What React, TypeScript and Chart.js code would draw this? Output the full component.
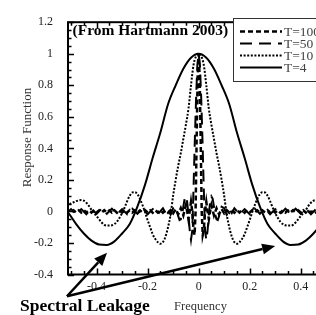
import React, { useEffect, useRef } from 'react';
import { Chart, registerables } from 'chart.js';

Chart.register(...registerables);

// ---- data (curves are symmetric about f = 0, so the positive half is listed) ----
const seriesLabels = ['T=100', 'T=50', 'T=10', 'T=4'];

const t100Freq = [0, 0.004, 0.008, 0.012, 0.016, 0.02, 0.025, 0.03, 0.035, 0.04, 0.045, 0.05,
  0.06, 0.07, 0.08, 0.09, 0.10, 0.11, 0.12, 0.13, 0.14, 0.15, 0.16, 0.17, 0.18, 0.19, 0.20,
  0.21, 0.22, 0.23, 0.24, 0.25, 0.26, 0.27, 0.28, 0.29, 0.30, 0.31, 0.32, 0.33, 0.34, 0.35,
  0.36, 0.37, 0.38, 0.39, 0.40, 0.41, 0.42, 0.43, 0.44, 0.45, 0.46, 0.47, 0.48, 0.49, 0.50,
  0.51, 0.52, 0.53, 0.54];
const t100Resp = [1.0, 0.85, 0.45, 0.0, -0.15, -0.12, 0.0, 0.06, 0.0, -0.05, 0.0, 0.04,
  -0.025, 0.02, -0.018, 0.015, -0.012, 0.008, -0.008, 0.007, -0.008, 0.008, -0.007, 0.008, -0.008, 0.007, -0.007,
  0.008, -0.007, 0.007, -0.008, 0.007, -0.007, 0.008, -0.007, 0.007, -0.007, 0.007, -0.008, 0.007, -0.007, 0.007,
  -0.007, 0.008, -0.007, 0.007, -0.007, 0.007, -0.007, 0.007, -0.007, 0.007, -0.007, 0.007, -0.007, 0.007, -0.007,
  0.007, -0.007, 0.007, -0.007];

const t50Freq = [0, 0.005, 0.01, 0.015, 0.02, 0.025, 0.03, 0.035, 0.04, 0.045, 0.05, 0.055, 0.06,
  0.065, 0.07, 0.075, 0.08, 0.085, 0.09, 0.10, 0.11, 0.12, 0.13, 0.14, 0.16, 0.18, 0.20, 0.22,
  0.24, 0.26, 0.28, 0.30, 0.32, 0.34, 0.36, 0.38, 0.40, 0.42, 0.44, 0.46, 0.48, 0.50, 0.52, 0.54];
const t50Resp = [1.0, 0.93, 0.72, 0.45, 0.15, -0.12, -0.18, -0.12, -0.02, 0.06, 0.095, 0.08, 0.03,
  -0.02, -0.05, -0.055, -0.03, 0.0, 0.03, 0.02, -0.02, 0.015, -0.01, 0.02, -0.018, 0.015, -0.018, 0.018,
  -0.015, 0.018, -0.018, 0.015, -0.018, 0.018, -0.015, 0.018, -0.015, 0.018, -0.018, 0.015, -0.018, 0.015, -0.015, 0.01];

const t10Freq = [0, 0.01, 0.02, 0.03, 0.04, 0.05, 0.06, 0.07, 0.08, 0.09, 0.10, 0.11, 0.12, 0.13,
  0.14, 0.15, 0.16, 0.17, 0.18, 0.19, 0.20, 0.21, 0.22, 0.23, 0.24, 0.25, 0.26, 0.27, 0.28, 0.29,
  0.30, 0.31, 0.32, 0.33, 0.34, 0.35, 0.36, 0.37, 0.38, 0.39, 0.40, 0.41, 0.42, 0.43, 0.44, 0.45,
  0.46, 0.47, 0.48, 0.49, 0.50, 0.51, 0.52, 0.53, 0.54, 0.55];
const t10Resp = [1.0, 0.985, 0.93, 0.80, 0.65, 0.55, 0.46, 0.37, 0.29, 0.20, 0.10, -0.02, -0.10, -0.16,
  -0.195, -0.205, -0.195, -0.175, -0.145, -0.10, -0.055, -0.005, 0.04, 0.08, 0.11, 0.122, 0.12, 0.10, 0.065, 0.025,
  -0.01, -0.04, -0.065, -0.08, -0.088, -0.09, -0.09, -0.085, -0.07, -0.05, -0.03, -0.01, 0.01, 0.035, 0.055, 0.068,
  0.072, 0.07, 0.065, 0.058, 0.05, 0.045, 0.04, 0.03, 0.02, 0.01];

const t4Freq = [0, 0.03, 0.06, 0.09, 0.12, 0.15, 0.18, 0.21, 0.24, 0.27, 0.30, 0.33, 0.36, 0.39,
  0.42, 0.45, 0.48, 0.51, 0.54];
const t4Resp = [1.0, 0.975, 0.905, 0.80, 0.68, 0.50, 0.34, 0.17, 0.03, -0.08, -0.14, -0.19, -0.213, -0.21,
  -0.185, -0.14, -0.08, -0.01, 0.05];

const xTickValues = [-0.4, -0.2, 0, 0.2, 0.4];
const xTickLabels = ['-0.4', '-0.2', '0', '0.2', '0.4'];
const yTickValues = [-0.4, -0.2, 0, 0.2, 0.4, 0.6, 0.8, 1, 1.2];
const yTickLabels = ['-0.4', '-0.2', '0', '0.2', '0.4', '0.6', '0.8', '1', '1.2'];

const xAxisTitle = 'Frequency';
const yAxisTitle = 'Response Function';
const noteText = '(From Hartmann 2003)';
const leakageText = 'Spectral Leakage';

// arrow annotation, in data coordinates
const arrowTail = { x: -0.516, y: -0.538 };
const arrowTips = [{ x: -0.359, y: -0.262 }, { x: 0.3, y: -0.219 }];

const SERIF = "'Liberation Serif', 'Times New Roman', serif";

function mirror(freq: number[], resp: number[]) {
  const pts: { x: number; y: number }[] = [];
  for (let i = freq.length - 1; i > 0; i--) pts.push({ x: -freq[i], y: resp[i] });
  for (let i = 0; i < freq.length; i++) pts.push({ x: freq[i], y: resp[i] });
  return pts;
}

const styles = [
  { borderWidth: 2.5, borderDash: [5, 3] },
  { borderWidth: 2, borderDash: [12, 7] },
  { borderWidth: 2, borderDash: [2, 1.6] },
  { borderWidth: 2, borderDash: [] as number[] },
];

const decorPlugin = {
  id: 'decor',
  afterDraw(chart: any) {
    const { ctx, chartArea, scales } = chart;
    const { left, right, top, bottom } = chartArea;
    const xs = scales.x;
    const ys = scales.y;
    ctx.save();

    // inward ticks (major at labelled values, minor every 0.05)
    ctx.strokeStyle = '#000';
    ctx.lineWidth = 1.5;
    ctx.beginPath();
    for (let k = -10; k <= 11; k++) {
      const v = k * 0.05;
      const px = Math.round(xs.getPixelForValue(v)) + 0.5;
      if (px < left || px > right) continue;
      const major = k % 4 === 0;
      const len = major ? 6 : 3.5;
      ctx.moveTo(px, bottom);
      ctx.lineTo(px, bottom - len);
      ctx.moveTo(px, top);
      ctx.lineTo(px, top + len);
    }
    for (let k = -8; k <= 24; k++) {
      const v = k * 0.05;
      const py = Math.round(ys.getPixelForValue(v)) + 0.5;
      const major = k % 4 === 0;
      const len = major ? 6 : 3.5;
      ctx.moveTo(left, py);
      ctx.lineTo(left + len, py);
    }
    ctx.stroke();

    // frame
    ctx.lineWidth = 2;
    ctx.strokeRect(left, top, right - left, bottom - top);

    // legend
    const lx = 233.5, ly = 18.5;
    ctx.fillStyle = '#fff';
    ctx.fillRect(lx, ly, 200, 63);
    ctx.lineWidth = 1;
    ctx.strokeStyle = '#333';
    ctx.strokeRect(lx, ly, 200, 63);
    chart.data.datasets.forEach((ds: any, i: number) => {
      const yy = 31.5 + i * 12;
      ctx.save();
      ctx.strokeStyle = '#000';
      ctx.lineWidth = ds.borderWidth;
      ctx.setLineDash(ds.borderDash || []);
      ctx.beginPath();
      ctx.moveTo(240, yy);
      ctx.lineTo(282, yy);
      ctx.stroke();
      ctx.restore();
      ctx.fillStyle = '#444';
      ctx.font = `13.5px ${SERIF}`;
      ctx.textAlign = 'left';
      ctx.textBaseline = 'middle';
      ctx.fillText(ds.label, 284, yy + 0.5);
    });

    // note
    ctx.fillStyle = '#000';
    ctx.font = `bold 15.5px ${SERIF}`;
    ctx.textAlign = 'left';
    ctx.textBaseline = 'alphabetic';
    ctx.fillText(noteText, 72.5, 35);

    // axis titles
    ctx.fillStyle = '#333';
    ctx.font = `12.5px ${SERIF}`;
    ctx.textAlign = 'center';
    ctx.fillText(xAxisTitle, 200.5, 309.5);
    ctx.save();
    ctx.translate(27.5, 137.5);
    ctx.rotate(-Math.PI / 2);
    ctx.font = `13px ${SERIF}`;
    ctx.textBaseline = 'middle';
    ctx.fillText(yAxisTitle, 0, 0);
    ctx.restore();

    // Spectral Leakage label
    ctx.fillStyle = '#000';
    ctx.font = `bold 17.5px ${SERIF}`;
    ctx.textAlign = 'center';
    ctx.textBaseline = 'alphabetic';
    ctx.fillText(leakageText, 85, 311);

    // arrows
    const tx = xs.getPixelForValue(arrowTail.x);
    const ty = ys.getPixelForValue(arrowTail.y);
    arrowTips.forEach((tip) => {
      const hx = xs.getPixelForValue(tip.x);
      const hy = ys.getPixelForValue(tip.y);
      const ang = Math.atan2(hy - ty, hx - tx);
      const headLen = 13;
      const headW = 5.5;
      const bx = hx - headLen * Math.cos(ang);
      const by = hy - headLen * Math.sin(ang);
      ctx.strokeStyle = '#000';
      ctx.lineWidth = 2.5;
      ctx.beginPath();
      ctx.moveTo(tx, ty);
      ctx.lineTo(bx, by);
      ctx.stroke();
      ctx.fillStyle = '#000';
      ctx.beginPath();
      ctx.moveTo(hx, hy);
      ctx.lineTo(bx + headW * Math.sin(ang), by - headW * Math.cos(ang));
      ctx.lineTo(bx - headW * Math.sin(ang), by + headW * Math.cos(ang));
      ctx.closePath();
      ctx.fill();
    });

    ctx.restore();
  },
};

export default function App() {
  const ref = useRef<HTMLCanvasElement>(null);
  useEffect(() => {
    if (!ref.current) return;
    const series = [
      mirror(t100Freq, t100Resp),
      mirror(t50Freq, t50Resp),
      mirror(t10Freq, t10Resp),
      mirror(t4Freq, t4Resp),
    ];
    const chart = new Chart(ref.current, {
      type: 'line',
      data: {
        datasets: series.map((pts, i) => ({
          label: seriesLabels[i],
          data: pts,
          borderColor: '#000',
          borderWidth: styles[i].borderWidth,
          borderDash: styles[i].borderDash,
          pointRadius: 0,
          fill: false,
          tension: 0,
          cubicInterpolationMode: i >= 2 ? 'monotone' : 'default',
        })),
      },
      options: {
        responsive: false,
        animation: false,
        layout: { padding: { top: 14, left: 0, right: 6, bottom: 0 } },
        plugins: { legend: { display: false }, tooltip: { enabled: false } },
        scales: {
          x: {
            type: 'linear',
            min: -0.512,
            max: 0.55,
            grid: { display: false, drawTicks: false },
            border: { display: false },
            afterBuildTicks: (s: any) => {
              s.ticks = xTickValues.map((v) => ({ value: v }));
            },
            afterFit: (s: any) => {
              s.height = 40.5;
            },
            ticks: {
              autoSkip: false,
              maxRotation: 0,
              padding: 5,
              color: '#222',
              font: { family: SERIF, size: 12 },
              callback: (value: any) => {
                const i = xTickValues.findIndex((t) => Math.abs(t - Number(value)) < 1e-9);
                return i >= 0 ? xTickLabels[i] : '';
              },
            },
          },
          y: {
            type: 'linear',
            min: -0.4,
            max: 1.2,
            grid: { display: false, drawTicks: false },
            border: { display: false },
            afterBuildTicks: (s: any) => {
              s.ticks = yTickValues.map((v) => ({ value: v }));
            },
            afterFit: (s: any) => {
              s.width = 68;
            },
            ticks: {
              autoSkip: false,
              padding: 15,
              color: '#222',
              font: { family: SERIF, size: 12 },
              callback: (value: any) => {
                const i = yTickValues.findIndex((t) => Math.abs(t - Number(value)) < 1e-9);
                return i >= 0 ? yTickLabels[i] : '';
              },
            },
          },
        },
      } as any,
      plugins: [decorPlugin],
    });
    return () => chart.destroy();
  }, []);

  return (
    <div style={{ position: 'fixed', left: 0, top: 0, width: 316, height: 315, overflow: 'hidden', background: '#fff' }}>
      <canvas ref={ref} width={345} height={315} style={{ display: 'block', width: 345, height: 315 }} />
    </div>
  );
}
